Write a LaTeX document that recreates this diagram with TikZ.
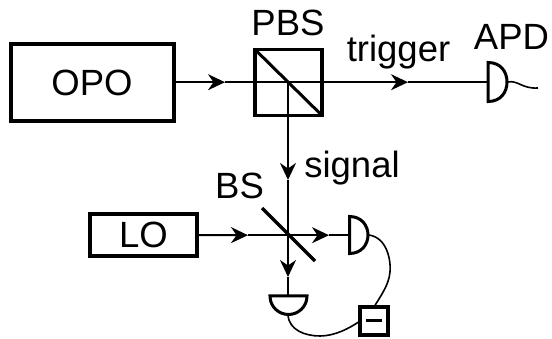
\documentclass[tikz,border=0pt]{standalone}
\usepackage{fontspec}
\setmainfont{Liberation Sans}
\usetikzlibrary{arrows.meta}
\tikzset{
  box/.style={draw=black,line width=3.9pt,inner sep=0pt,outer sep=0pt},
  thinbox/.style={draw=black,line width=3.5pt,inner sep=0pt,outer sep=0pt},
  lbl/.style={anchor=base,inner sep=0pt,font=\fontsize{36.5}{37}\selectfont},
  beam/.style={line width=2pt},
  ray/.style={line width=2pt,-{Stealth[length=17pt,width=16pt,inset=5.5pt]}},
  det/.style={line width=3pt,line join=miter},
  wire/.style={line width=1.6pt}
}
\begin{document}
\begin{tikzpicture}[x=1pt,y=-1pt]
\useasboundingbox (0,0) rectangle (552,339);
% nodes
\node[box,minimum width=163pt,minimum height=77pt] (opo) at (92.5,82.5) {};
\node[box,minimum width=67pt,minimum height=66pt] (pbs) at (288.5,82.5) {};
\node[thinbox,minimum width=107pt,minimum height=42pt] (lo) at (143.5,235) {};
\node[thinbox,minimum width=28pt,minimum height=28pt] (diff) at (374,321) {};
\coordinate (pbsc) at (288,82.2);
\coordinate (bsc) at (288,235.2);
\coordinate (tipa) at (225,82.2);
\coordinate (tipb) at (408,82.2);
\coordinate (tipc) at (288,180);
\coordinate (tipd) at (248,235.2);
\coordinate (tipe) at (329,235.2);
\coordinate (tipf) at (288,277);
\coordinate (apdin) at (488,82.2);
\coordinate (apdout) at (508,82);
\coordinate (apdend) at (538,88);
\coordinate (hrin) at (349,235.2);
\coordinate (hrout) at (369,235);
\coordinate (hdin) at (288,296);
\coordinate (hdout) at (288,315);
\coordinate (bsa) at (262,208);
\coordinate (bsb) at (315,261);
% beams
\draw[ray] (opo.east |- pbsc) -- (tipa);
\draw[beam] (tipa) -- (pbsc);
\draw[beam] (pbs.west |- pbsc) -- (pbsc);
\draw[ray] (pbsc) -- (tipb);
\draw[beam] (tipb) -- (apdin);
\draw[ray] (pbsc) -- (tipc);
\draw[beam] (tipc) -- (bsc);
\draw[ray] (lo.east) -- (tipd);
\draw[beam] (tipd) -- (bsc);
\draw[ray] (bsc) -- (tipe);
\draw[beam] (tipe) -- (hrin);
\draw[ray] (bsc) -- (tipf);
\draw[beam] (tipf) -- (hdin);
% cube diagonal, mirror
\draw[line width=3pt] (pbs.north west) -- (pbs.south east);
\draw[line width=3.2pt] (bsa) -- (bsb);
% detectors
\draw[det] (488,62.5) -- (488,101.5) .. controls (501,101.5) and (507,92) .. (507,82) .. controls (507,72) and (501,62.5) .. (488,62.5) -- cycle;
\draw[det] (349.5,216.5) -- (349.5,253.5) .. controls (361,253.5) and (368,245) .. (368,235) .. controls (368,225) and (361,216.5) .. (349.5,216.5) -- cycle;
\draw[det] (270,296) -- (307,296) .. controls (307,307) and (298,314.5) .. (288.5,314.5) .. controls (279,314.5) and (270,307) .. (270,296) -- cycle;
% wires
\draw[wire] (apdout) .. controls (518,80) and (522,89) .. (apdend);
\draw[wire] (hrout) .. controls (388,238) and (391,262) .. (390,272) .. controls (389,285) and (380,297) .. (diff.north);
\draw[wire] (hdout) .. controls (289,330) and (305,336) .. (320,336) .. controls (335,336) and (350,328) .. (diff.west);
\draw[line width=3pt] (366,321) -- (382,321);
% labels
\node[lbl] (opot) at (92,96) {OPO};
\node[lbl] (pbst) at (288,36) {PBS};
\node[lbl] (trig) at (398.5,62) {trigger};
\node[lbl] (apdt) at (511.5,50) {APD};
\node[lbl] (sigt) at (352,178) {signal};
\node[lbl] (bst) at (239.5,199) {BS};
\node[lbl] (lot) at (143.5,248) {LO};
\end{tikzpicture}
\end{document}
